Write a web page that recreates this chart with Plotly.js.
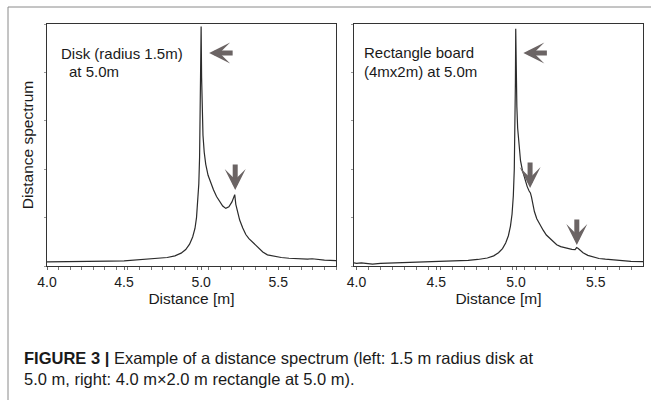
<!DOCTYPE html>
<html>
<head>
<meta charset="utf-8">
<script src="https://cdn.plot.ly/plotly-3.0.1.min.js"></script>
<style>html,body{margin:0;padding:0;background:#fff;}#chart{width:651px;height:400px;}</style>
</head>
<body>
<div id="chart"></div>
<script>
// Left panel: disk (radius 1.5 m) at 5.0 m
var diskDistance = [4.00, 4.10, 4.20, 4.30, 4.40, 4.50, 4.60, 4.70, 4.78, 4.83, 4.87, 4.90, 4.925, 4.945, 4.96, 4.97, 4.978, 4.985, 4.99, 4.994, 4.997, 5.000,
  5.003, 5.007, 5.012, 5.02, 5.03, 5.045, 5.06, 5.08, 5.10, 5.12, 5.14, 5.16, 5.18, 5.20, 5.212, 5.218, 5.225, 5.235, 5.25, 5.27, 5.29, 5.31, 5.33, 5.35,
  5.37, 5.40, 5.43, 5.47, 5.52, 5.57, 5.62, 5.66, 5.69, 5.72, 5.75, 5.80, 5.875];
var diskSpectrum = [0.017, 0.017, 0.018, 0.019, 0.020, 0.021, 0.025, 0.030, 0.035, 0.042, 0.053, 0.068, 0.090, 0.120, 0.155, 0.200, 0.260, 0.340, 0.450, 0.600, 0.780, 0.990,
  0.780, 0.640, 0.540, 0.470, 0.420, 0.375, 0.345, 0.315, 0.287, 0.265, 0.248, 0.238, 0.245, 0.265, 0.285, 0.295, 0.255, 0.225, 0.190, 0.157, 0.130, 0.113, 0.101, 0.090,
  0.077, 0.058, 0.046, 0.040, 0.035, 0.032, 0.030, 0.029, 0.028, 0.030, 0.027, 0.024, 0.022];

// Right panel: rectangle board (4 m x 2 m) at 5.0 m
var rectDistance = [3.984, 4.00, 4.03, 4.06, 4.10, 4.15, 4.20, 4.31, 4.40, 4.52, 4.62, 4.70, 4.76, 4.82, 4.86, 4.89, 4.915, 4.935, 4.952, 4.965, 4.975, 4.983, 4.989, 4.993, 4.996, 4.998,
  5.001, 5.005, 5.01, 5.018, 5.028, 5.04, 5.056, 5.07, 5.082, 5.09, 5.097, 5.105, 5.115, 5.13, 5.15, 5.17, 5.19, 5.213, 5.235, 5.255, 5.28, 5.318, 5.35, 5.37, 5.38, 5.39,
  5.42, 5.45, 5.485, 5.52, 5.56, 5.61, 5.67, 5.72, 5.796];
var rectSpectrum = [0.013, 0.011, 0.013, 0.010, 0.008, 0.011, 0.012, 0.014, 0.015, 0.0165, 0.020, 0.023, 0.027, 0.033, 0.042, 0.055, 0.072, 0.095, 0.125, 0.165, 0.215, 0.290, 0.400, 0.560, 0.760, 0.980,
  0.800, 0.660, 0.570, 0.490, 0.435, 0.395, 0.355, 0.328, 0.310, 0.302, 0.285, 0.255, 0.225, 0.195, 0.168, 0.148, 0.128, 0.113, 0.098, 0.088, 0.080, 0.073, 0.069, 0.068, 0.076, 0.072,
  0.055, 0.044, 0.036, 0.031, 0.028, 0.025, 0.020, 0.019, 0.018];

var xTickValues = [4.0, 4.5, 5.0, 5.5];
var xTickLabels = ["4.0", "4.5", "5.0", "5.5"];
var yTickValues = [0, 0.2, 0.4, 0.6, 0.8, 1.0];

var xTitle = "Distance [m]";
var yTitle = "Distance spectrum";
var leftLabel1 = "Disk (radius 1.5m)";
var leftLabel2 = "at 5.0m";
var rightLabel1 = "Rectangle board";
var rightLabel2 = "(4mx2m) at 5.0m";
var captionText = "<b>FIGURE 3 |</b> Example of a distance spectrum (left: 1.5 m radius disk at<br>5.0 m, right: 4.0 m×2.0 m rectangle at 5.0 m).";

// Arrow tips (data coordinates) marking the peaks
var leftArrows = [{x: 5.052, y: 0.88, dir: "left"}, {x: 5.221, y: 0.314, dir: "down"}];
var rightArrows = [{x: 5.046, y: 0.88, dir: "left"}, {x: 5.088, y: 0.322, dir: "down"}, {x: 5.381, y: 0.087, dir: "down"}];

var FONT = "Liberation Sans, Arial, Helvetica, sans-serif";
var lineColor = "#2b2b2b";
var arrowColor = "#6b6464";

var traces = [
  {x: diskDistance, y: diskSpectrum, xaxis: "x", yaxis: "y", type: "scatter", mode: "lines",
   line: {color: lineColor, width: 1.2}, hoverinfo: "skip"},
  {x: rectDistance, y: rectSpectrum, xaxis: "x2", yaxis: "y2", type: "scatter", mode: "lines",
   line: {color: lineColor, width: 1.2}, hoverinfo: "skip"}
];

function xAxis(domain, range, anchor) {
  return {
    domain: domain, range: range, anchor: anchor,
    showline: true, mirror: true, linecolor: "#333", linewidth: 1.2,
    showgrid: false, zeroline: false,
    tickmode: "array", tickvals: xTickValues, ticktext: xTickLabels,
    ticks: "outside", ticklen: 3, tickcolor: "#666", tickwidth: 1,
    minor: {ticks: "outside", ticklen: 3, tickcolor: "#777", dtick: 0.075, tick0: 4.0, showgrid: false},
    tickfont: {family: FONT, size: 14, color: "#1a1a1a"},
    ticklabelstandoff: 0,
    title: {text: xTitle, font: {family: FONT, size: 15.5, color: "#1a1a1a"}, standoff: 1},
    automargin: false, fixedrange: true
  };
}
function yAxis(domain, anchor, withTitle) {
  var a = {
    domain: domain, range: [0, 1], anchor: anchor,
    showline: true, mirror: true, linecolor: "#333", linewidth: 1.2,
    showgrid: false, zeroline: false,
    tickmode: "array", tickvals: yTickValues, showticklabels: false,
    ticks: "outside", ticklen: 2, tickcolor: "#999", tickwidth: 1,
    automargin: false, fixedrange: true
  };
  if (withTitle) a.title = {text: yTitle, font: {family: FONT, size: 15.5, color: "#1a1a1a"}, standoff: 6};
  return a;
}

function arrowAnn(a, xref, yref) {
  var ann = {x: a.x, y: a.y, xref: xref, yref: yref, text: "", showarrow: true,
    arrowhead: 3, arrowsize: 0.7, arrowwidth: 5, arrowcolor: arrowColor, standoff: 0};
  if (a.dir === "left") { ann.ax = 25; ann.ay = 0; } else { ann.ax = 0; ann.ay = -27; }
  return ann;
}

var labelFont = {family: FONT, size: 15, color: "#1a1a1a"};
var annotations = [
  {text: leftLabel1, xref: "paper", yref: "paper", x: 59/651, y: 1 - 53/400, xanchor: "left", yanchor: "middle", showarrow: false, font: labelFont},
  {text: leftLabel2, xref: "paper", yref: "paper", x: 67/651, y: 1 - 72/400, xanchor: "left", yanchor: "middle", showarrow: false, font: labelFont},
  {text: rightLabel1, xref: "paper", yref: "paper", x: 362/651, y: 1 - 52/400, xanchor: "left", yanchor: "middle", showarrow: false, font: labelFont},
  {text: rightLabel2, xref: "paper", yref: "paper", x: 362/651, y: 1 - 72/400, xanchor: "left", yanchor: "middle", showarrow: false, font: labelFont},
  {text: captionText, xref: "paper", yref: "paper", x: 22/651, y: 1 - 368/400, xanchor: "left", yanchor: "middle", align: "left", showarrow: false,
   font: {family: FONT, size: 16.5, color: "#1a1a1a"}}
];
leftArrows.forEach(function (a) { annotations.push(arrowAnn(a, "x", "y")); });
rightArrows.forEach(function (a) { annotations.push(arrowAnn(a, "x2", "y2")); });

var layout = {
  width: 651, height: 400,
  margin: {l: 0, r: 0, t: 0, b: 0},
  paper_bgcolor: "#fff", plot_bgcolor: "#fff",
  showlegend: false,
  xaxis: xAxis([47/651, 336/651], [4.0, 5.875], "y"),
  yaxis: yAxis([1 - 266/400, 1 - 24/400], "x", true),
  xaxis2: xAxis([354/651, 643/651], [3.984, 5.796], "y2"),
  yaxis2: yAxis([1 - 266/400, 1 - 24/400], "x2", false),
  annotations: annotations,
  shapes: [
    {type: "rect", xref: "paper", yref: "paper", x0: 8/651, x1: 1.05, y0: -0.05, y1: 1 - 7/400,
     line: {color: "#8a8a8a", width: 1}, fillcolor: "rgba(0,0,0,0)", layer: "below"}
  ]
};

Plotly.newPlot("chart", traces, layout, {staticPlot: true, displayModeBar: false});
</script>
</body>
</html>
